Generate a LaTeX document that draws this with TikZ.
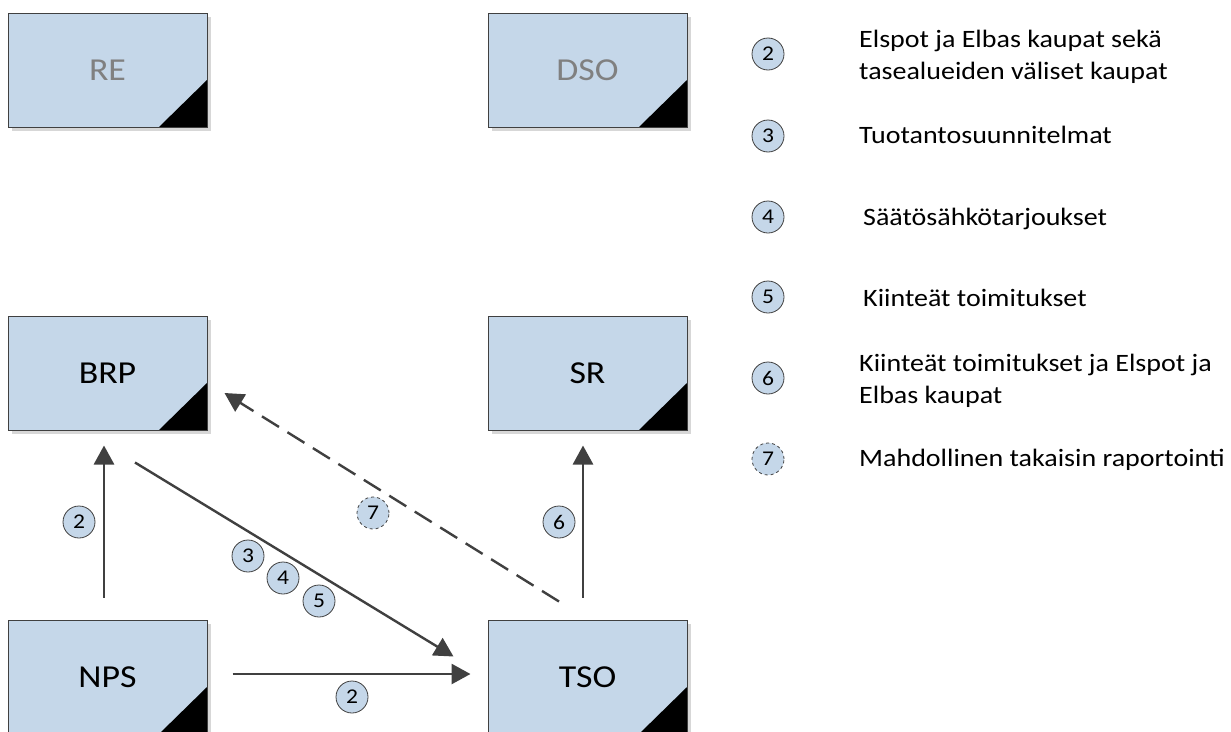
\documentclass[tikz,border=0pt]{standalone}
\usepackage{fontspec}
\setmainfont{Carlito}[FakeStretch=1.12]
\usetikzlibrary{arrows.meta,shadows}

\definecolor{boxfill}{RGB}{197,215,233}
\definecolor{edge}{RGB}{64,64,64}
\definecolor{shade}{RGB}{215,215,215}
\definecolor{dimtext}{RGB}{128,128,128}

\tikzset{
  actor/.style={rectangle, draw=edge, line width=1pt, fill=boxfill,
    minimum width=199pt, minimum height=114pt, inner sep=0pt,
    font=\fontsize{32}{38}\selectfont,
    drop shadow={shadow xshift=4pt, shadow yshift=-4pt, fill=shade, opacity=1},
    path picture={\fill[black] (path picture bounding box.south east)
      -- ++(-48pt,0pt) -- ++(48pt,47pt) -- cycle;}},
  flow/.style={draw=edge, line width=2.8pt,
    -{Triangle[length=19pt,width=20pt]}},
  slantflow/.style={flow, line width=2.4pt},
  backflow/.style={slantflow, dash pattern=on 20pt off 10pt},
  tag/.style={circle, draw=edge, line width=0.8pt, fill=boxfill,
    minimum size=32pt, inner sep=0pt, font=\fontsize{21}{25}\selectfont},
  opttag/.style={tag, dashed},
  note/.style={anchor=west, align=left, inner sep=0pt,
    font=\fontsize{25}{32}\selectfont}
}

\begin{document}
\begin{tikzpicture}[x=1pt, y=-1pt]
  \useasboundingbox (0,0) rectangle (1231,731);

  % market parties
  \node[actor, text=dimtext] (RE)  at (107.5,70)  {RE};
  \node[actor, text=dimtext] (DSO) at (587.5,70)  {DSO};
  \node[actor] (BRP) at (107.5,373) {BRP};
  \node[actor] (SR)  at (587.5,373) {SR};
  \node[actor] (NPS) at (107.5,677) {NPS};
  \node[actor] (TSO) at (587.5,677) {TSO};

  % information flows
  \draw[flow] ([xshift=-3.5pt,yshift=22pt]NPS.north) -- ([xshift=-3.5pt,yshift=-15pt]BRP.south);
  \draw[flow] ([xshift=-4.5pt,yshift=22pt]TSO.north) -- ([xshift=-4.5pt,yshift=-15pt]SR.south);
  \draw[flow] ([xshift=25pt,yshift=3pt]NPS.east) -- ([xshift=-17pt,yshift=3pt]TSO.west);
  \draw[slantflow] ([xshift=27.5pt,yshift=-32pt]BRP.south) -- ([xshift=-34pt,yshift=-37pt]TSO.north west);
  \draw[backflow] ([xshift=-28.5pt,yshift=18pt]TSO.north) -- ([xshift=17pt,yshift=-20pt]BRP.east);

  % flow numbers
  \node[tag] (f2a) at (79,522)  {2};
  \node[tag] (f3)  at (248,556) {3};
  \node[tag] (f4)  at (283,578) {4};
  \node[tag] (f5)  at (319,601) {5};
  \node[tag] (f2b) at (352,697) {2};
  \node[tag] (f6)  at (559,522) {6};
  \node[opttag] (f7) at (373,513) {7};

  % legend
  \node[tag] (l2) at (768,54)  {2};
  \node[tag] (l3) at (768,136) {3};
  \node[tag] (l4) at (768,217) {4};
  \node[tag] (l5) at (768,297) {5};
  \node[tag] (l6) at (768,378) {6};
  \node[opttag] (l7) at (768,459) {7};

  \node[note] (t2) at (859,57)  {Elspot ja Elbas kaupat sekä\\tasealueiden väliset kaupat};
  \node[note] (t3) at (859,135) {Tuotantosuunnitelmat};
  \node[note] (t4) at (863,219) {Säätösähkötarjoukset};
  \node[note] (t5) at (863,298) {Kiinteät toimitukset};
  \node[note] (t6) at (859,381) {Kiinteät toimitukset ja Elspot ja\\Elbas kaupat};
  \node[note] (t7) at (859,460) {Mahdollinen takaisin raportointi};
\end{tikzpicture}
\end{document}
